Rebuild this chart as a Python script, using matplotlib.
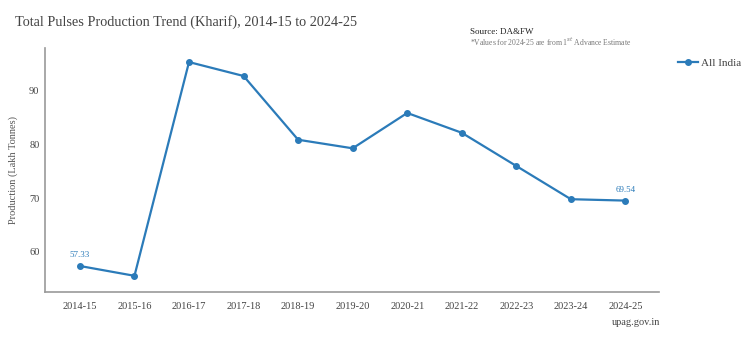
import matplotlib
matplotlib.use('Agg')
import matplotlib.pyplot as plt

years = ['2014-15', '2015-16', '2016-17', '2017-18', '2018-19', '2019-20',
         '2020-21', '2021-22', '2022-23', '2023-24', '2024-25']
production = [57.33, 55.5, 95.4, 92.8, 80.9, 79.3, 85.9, 82.2, 76.0, 69.8, 69.54]
yticks = [60, 70, 80, 90]

plt.rcParams['font.family'] = ['Liberation Serif', 'DejaVu Serif']
col = '#2b7bb9'

fig = plt.figure(figsize=(7.5, 3.39), dpi=100)
ax = fig.add_axes([0.06, 0.139, 0.819, 0.719])

x = list(range(len(years)))
ax.plot(x, production, color=col, lw=1.6, marker='o', ms=4, label='All India')

# value labels on first and last points
for i in (0, len(years) - 1):
    ax.annotate(f'{production[i]:.2f}', (x[i], production[i]), xytext=(0, 5),
                textcoords='offset points', ha='center', va='bottom',
                fontsize=6.5, color=col)

ax.set_xlim(-0.64, len(years) - 0.38)
ax.set_ylim(52.5, 98)
ax.set_xticks(x)
ax.set_xticklabels(years, fontsize=7.5, color='#444444')
ax.set_yticks(yticks)
ax.tick_params(axis='y', labelsize=7.5, labelcolor='#444444', length=0, pad=4)
ax.tick_params(axis='x', length=0, pad=7)
ax.set_ylabel('Production (Lakh Tonnes)', fontsize=7.5, color='#555555', labelpad=8)

for s in ('top', 'right'):
    ax.spines[s].set_visible(False)
for s in ('left', 'bottom'):
    ax.spines[s].set_color('#999999')
    ax.spines[s].set_linewidth(1.2)

fig.text(0.02, 0.935, 'Total Pulses Production Trend (Kharif), 2014-15 to 2024-25',
         fontsize=10.3, color='#444444', va='center')
fig.text(0.627, 0.905, 'Source: DA&FW', fontsize=6.5, color='#222222', va='center')
fig.text(0.627, 0.878, '*Values for 2024-25 are from 1$^{st}$ Advance Estimate',
         fontsize=5.5, color='#777777', va='center')
fig.text(0.816, 0.048, 'upag.gov.in', fontsize=7.5, color='#444444', va='center')

fig.legend(loc='center left', bbox_to_anchor=(0.89, 0.815), frameon=False,
           fontsize=8, handlelength=1.8, handletextpad=0.3, labelcolor='#444444')

fig.savefig('out.png', dpi=100, facecolor='white')
